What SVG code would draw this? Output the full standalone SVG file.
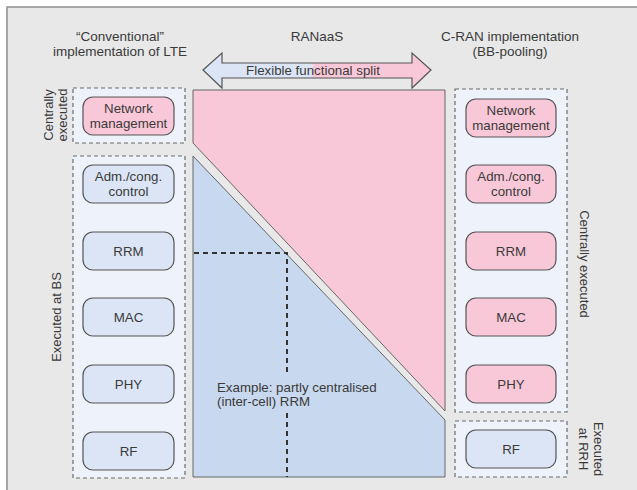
<svg xmlns="http://www.w3.org/2000/svg" width="637" height="490" viewBox="0 0 637 490">
  <style>
    text { font-family: "Liberation Sans", Arial, sans-serif; font-size: 13.3px; fill: #3a3a3a; }
    .mid { text-anchor: middle; }
    .title { font-size: 13.5px; }
    .side { font-size: 13px; }
    .zone { fill: #eef2fa; stroke: #6a6a6a; stroke-width: 1.2; stroke-dasharray: 4 3; }
    .blue { fill: #dbe5f5; stroke: #555; stroke-width: 1.2; }
    .pink { fill: #f9c8d8; stroke: #555; stroke-width: 1.2; }
    .guide { fill: none; stroke: #333; stroke-width: 2; stroke-dasharray: 5 4; }
  </style>

  <defs>
    <path id="arrowShape" d="M203,70 L222,53 L222,63 L412,63 L412,53 L431,70 L412,88 L412,78 L222,78 L222,88 Z"/>
    <clipPath id="leftHalf"><rect x="190" y="40" width="123" height="60"/></clipPath>
    <clipPath id="rightHalf"><rect x="313" y="40" width="130" height="60"/></clipPath>
  </defs>

  <!-- frame -->
  <rect x="7" y="7" width="640" height="490" fill="#e8e8e8" stroke="#8c8c8c" stroke-width="1.5"/>

  <!-- column headings -->
  <text class="mid title" x="120" y="41">“Conventional”</text>
  <text class="mid title" x="120" y="56.3">implementation of LTE</text>
  <text class="mid title" x="317" y="41">RANaaS</text>
  <text class="mid title" x="510" y="41">C-RAN implementation</text>
  <text class="mid title" x="510" y="56.3">(BB-pooling)</text>

  <!-- flexible split arrow, blue half / pink half -->
  <g id="split-arrow">
    <use href="#arrowShape" fill="#dbe5f5" clip-path="url(#leftHalf)"/>
    <use href="#arrowShape" fill="#f9c8d8" clip-path="url(#rightHalf)"/>
    <use href="#arrowShape" fill="none" stroke="#555" stroke-width="1.2"/>
    <text class="mid" x="313" y="75" font-size="14">Flexible functional split</text>
  </g>

  <!-- split areas -->
  <g id="central-area">
    <polygon points="193,90 445,90 445,411 193,143" fill="#f9c8d8" stroke="#666" stroke-width="1"/>
  </g>
  <g id="bs-area">
    <polygon points="193,156 445,420 445,477 193,477" fill="#c8d8ee" stroke="#666" stroke-width="1"/>
  </g>

  <!-- example split line -->
  <g id="connectors">
    <polyline class="guide" points="194,253 287,253 287,374"/>
    <line class="guide" x1="287" y1="413" x2="287" y2="477"/>
  </g>
  <text x="217" y="392" font-size="12.5">Example: partly centralised</text>
  <text x="217" y="406" font-size="12.5">(inter-cell) RRM</text>

  <!-- left column: conventional LTE -->
  <g id="lte-central-zone">
    <rect class="zone" x="73" y="88" width="112" height="55"/>
    <text class="mid side" transform="translate(52.5,115) rotate(-90)">Centrally</text>
    <text class="mid side" transform="translate(67,115) rotate(-90)">executed</text>
  </g>
  <g id="lte-bs-zone">
    <rect class="zone" x="73" y="156" width="112" height="322"/>
    <text class="mid side" transform="translate(61,317) rotate(-90)">Executed at BS</text>
  </g>
  <g id="lte-netman">
    <rect class="pink" x="83" y="97" width="91" height="38" rx="10"/>
    <text class="mid" x="128.5" y="113">Network</text>
    <text class="mid" x="128.5" y="128">management</text>
  </g>
  <g id="lte-adm">
    <rect class="blue" x="83" y="165" width="91" height="38" rx="10"/>
    <text class="mid" x="128.5" y="181">Adm./cong.</text>
    <text class="mid" x="128.5" y="196">control</text>
  </g>
  <g id="lte-rrm">
    <rect class="blue" x="83" y="232" width="91" height="38" rx="10"/>
    <text class="mid" x="128.5" y="256">RRM</text>
  </g>
  <g id="lte-mac">
    <rect class="blue" x="83" y="298" width="91" height="38" rx="10"/>
    <text class="mid" x="128.5" y="322">MAC</text>
  </g>
  <g id="lte-phy">
    <rect class="blue" x="83" y="365" width="91" height="38" rx="10"/>
    <text class="mid" x="128.5" y="389">PHY</text>
  </g>
  <g id="lte-rf">
    <rect class="blue" x="83" y="432" width="91" height="38" rx="10"/>
    <text class="mid" x="128.5" y="456">RF</text>
  </g>

  <!-- right column: C-RAN -->
  <g id="cran-central-zone">
    <rect class="zone" x="455" y="89" width="112" height="323"/>
    <text class="mid side" transform="translate(580,264) rotate(90)">Centrally executed</text>
  </g>
  <g id="cran-rrh-zone">
    <rect class="zone" x="455" y="421" width="112" height="56"/>
    <text class="mid side" transform="translate(593.5,449) rotate(90)">Executed</text>
    <text class="mid side" transform="translate(579,449) rotate(90)">at RRH</text>
  </g>
  <g id="cran-netman">
    <rect class="pink" x="466" y="99" width="90" height="38" rx="10"/>
    <text class="mid" x="511" y="115">Network</text>
    <text class="mid" x="511" y="130">management</text>
  </g>
  <g id="cran-adm">
    <rect class="pink" x="466" y="165" width="90" height="38" rx="10"/>
    <text class="mid" x="511" y="181">Adm./cong.</text>
    <text class="mid" x="511" y="196">control</text>
  </g>
  <g id="cran-rrm">
    <rect class="pink" x="466" y="232" width="90" height="38" rx="10"/>
    <text class="mid" x="511" y="256">RRM</text>
  </g>
  <g id="cran-mac">
    <rect class="pink" x="466" y="298" width="90" height="38" rx="10"/>
    <text class="mid" x="511" y="322">MAC</text>
  </g>
  <g id="cran-phy">
    <rect class="pink" x="466" y="365" width="90" height="38" rx="10"/>
    <text class="mid" x="511" y="389">PHY</text>
  </g>
  <g id="cran-rf">
    <rect class="blue" x="466" y="430" width="90" height="38" rx="10"/>
    <text class="mid" x="511" y="454">RF</text>
  </g>
</svg>
